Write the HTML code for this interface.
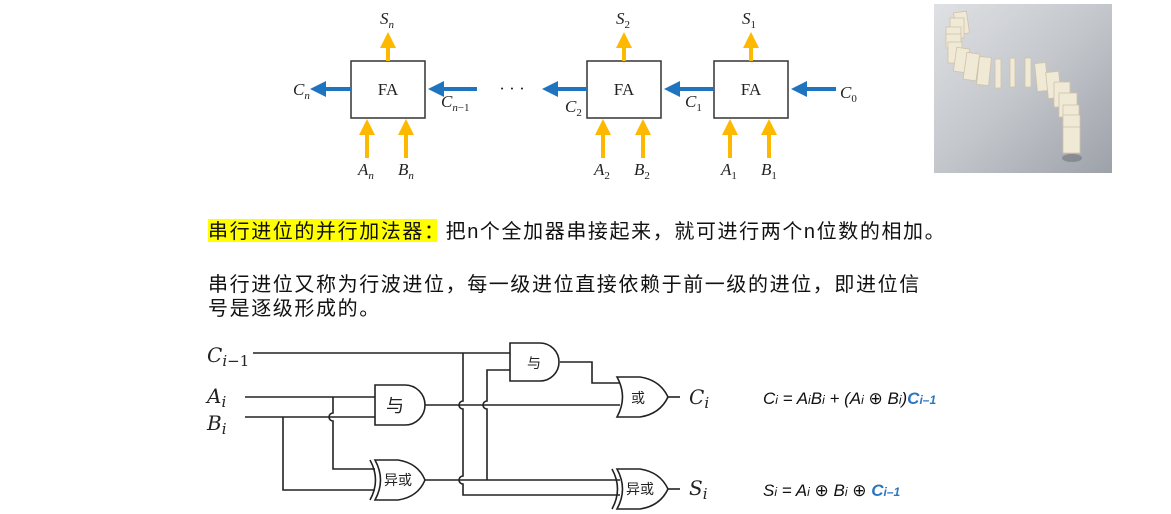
<!DOCTYPE html>
<html><head><meta charset="utf-8"><style>
body{margin:0;background:#fff;width:1171px;height:514px;overflow:hidden}
svg{display:block}
.cn{font-family:"Liberation Sans","Noto Sans CJK SC",sans-serif}
.ser{font-family:"Liberation Serif",serif;font-style:italic}
</style></head><body>
<svg width="1171" height="514" viewBox="0 0 1171 514">
<defs>
<marker id="ya" markerWidth="4" markerHeight="4" refX="2" refY="2" orient="auto"><path d="M0,0L4,2L0,4z" fill="#FFB800"/></marker>
<marker id="ba" markerWidth="4" markerHeight="4" refX="2" refY="2" orient="auto"><path d="M0,0L4,2L0,4z" fill="#1F74C0"/></marker>
<linearGradient id="bg" x1="0" y1="0" x2="1" y2="1"><stop offset="0" stop-color="#dfe1e4"/><stop offset="0.5" stop-color="#c3c6cb"/><stop offset="1" stop-color="#9da1a9"/></linearGradient>
</defs>
<g fill="none" stroke="#333" stroke-width="1.5">
<rect x="351" y="61" width="74" height="57" fill="#fff"/>
<rect x="587" y="61" width="74" height="57" fill="#fff"/>
<rect x="714" y="61" width="74" height="57" fill="#fff"/>
</g>
<g font-family="Liberation Serif,serif" font-size="17" text-anchor="middle" fill="#222">
<text x="388" y="95">FA</text><text x="624" y="95">FA</text><text x="751" y="95">FA</text>
<text x="512" y="94">· · ·</text>
</g>
<g stroke="#FFB800" stroke-width="4" marker-end="url(#ya)">
<line x1="388" y1="61" x2="388" y2="40"/><line x1="624" y1="61" x2="624" y2="40"/><line x1="751" y1="61" x2="751" y2="40"/>
<line x1="367" y1="158" x2="367" y2="127"/><line x1="406" y1="158" x2="406" y2="127"/>
<line x1="603" y1="158" x2="603" y2="127"/><line x1="643" y1="158" x2="643" y2="127"/>
<line x1="730" y1="158" x2="730" y2="127"/><line x1="769" y1="158" x2="769" y2="127"/>
</g>
<g stroke="#1F74C0" stroke-width="4" marker-end="url(#ba)">
<line x1="351" y1="89" x2="318" y2="89"/><line x1="477" y1="89" x2="436" y2="89"/>
<line x1="587" y1="89" x2="550" y2="89"/><line x1="714" y1="89" x2="672" y2="89"/>
<line x1="836" y1="89" x2="799" y2="89"/>
</g>
<g class="ser" font-size="17" fill="#222">
<text x="380" y="24">S<tspan font-size="11" dy="4">n</tspan></text>
<text x="616" y="24">S<tspan font-size="11" dy="4" font-style="normal">2</tspan></text>
<text x="742" y="24">S<tspan font-size="11" dy="4" font-style="normal">1</tspan></text>
<text x="293" y="95">C<tspan font-size="11" dy="4">n</tspan></text>
<text x="441" y="107">C<tspan font-size="11" dy="4">n</tspan><tspan font-size="11" font-style="normal">−1</tspan></text>
<text x="565" y="112">C<tspan font-size="11" dy="4" font-style="normal">2</tspan></text>
<text x="685" y="107">C<tspan font-size="11" dy="4" font-style="normal">1</tspan></text>
<text x="840" y="98">C<tspan font-size="11" dy="4" font-style="normal">0</tspan></text>
<text x="358" y="175">A<tspan font-size="11" dy="4">n</tspan></text>
<text x="398" y="175">B<tspan font-size="11" dy="4">n</tspan></text>
<text x="594" y="175">A<tspan font-size="11" dy="4" font-style="normal">2</tspan></text>
<text x="634" y="175">B<tspan font-size="11" dy="4" font-style="normal">2</tspan></text>
<text x="721" y="175">A<tspan font-size="11" dy="4" font-style="normal">1</tspan></text>
<text x="761" y="175">B<tspan font-size="11" dy="4" font-style="normal">1</tspan></text>
</g>
<!-- photo -->
<rect x="934" y="4" width="178" height="169" fill="url(#bg)"/>
<g fill="#4a4c52" opacity="0.35">
<ellipse cx="1072" cy="158" rx="10" ry="4"/>
</g>
<g fill="#f0e9d6" stroke="#cdc3a8" stroke-width="0.8">
<rect x="955" y="12" width="13" height="22" transform="rotate(-8 961 23)"/>
<rect x="950" y="18" width="14" height="20"/>
<rect x="946" y="27" width="15" height="17"/>
<rect x="946" y="34" width="15" height="14"/>
<rect x="948" y="42" width="14" height="21"/>
<rect x="955" y="48" width="13" height="24" transform="rotate(8 961 60)"/>
<rect x="965" y="53" width="13" height="27" transform="rotate(8 971 66)"/>
<rect x="978" y="57" width="12" height="28" transform="rotate(6 984 71)"/>
<rect x="995" y="59" width="6" height="29"/>
<rect x="1010" y="58" width="5" height="29"/>
<rect x="1025" y="58" width="6" height="29"/>
<rect x="1036" y="63" width="11" height="28" transform="rotate(-6 1041 77)"/>
<rect x="1047" y="72" width="13" height="26" transform="rotate(-6 1053 85)"/>
<rect x="1054" y="82" width="16" height="25"/>
<rect x="1059" y="93" width="18" height="24"/>
<rect x="1063" y="105" width="16" height="22"/>
<rect x="1063" y="115" width="17" height="15"/>
<rect x="1063" y="127" width="17" height="26"/>
</g>
<!-- text -->
<rect x="208" y="219" width="229" height="23" fill="#ffff00"/>
<g class="cn" font-size="20" fill="#111" letter-spacing="1.6">
<text x="208" y="238">串行进位的并行加法器：把n个全加器串接起来，就可进行两个n位数的相加。</text>
<text x="208" y="291">串行进位又称为行波进位，每一级进位直接依赖于前一级的进位，即进位信</text>
<text x="208" y="315">号是逐级形成的。</text>
</g>
<!-- circuit -->
<g fill="none" stroke="#222" stroke-width="1.6">
<path d="M253,353H510"/>
<path d="M245,397H375"/><path d="M245,417H375"/>
<path d="M333,397V413a4,4 0 0 0 0,8V469H375"/>
<path d="M283,417V490H375"/>
<path d="M425,405H620"/>
<path d="M425,480H620"/>
<path d="M463,353V401a4,4 0 0 0 0,8V476a4,4 0 0 0 0,8V495H620"/>
<path d="M510,370H487V401a4,4 0 0 0 0,8V480"/>
<path d="M560,362H592V383H622"/>
<path d="M668,397H680"/><path d="M668,489H680"/>
<path d="M510,343H540A19,19 0 0 1 540,381H510Z" fill="#fff"/>
<path d="M375,385H405A20,20 0 0 1 405,425H375Z" fill="#fff"/>
<path d="M617,377H640Q660,380 668,397Q660,414 640,417H617Q628,397 617,377Z" fill="#fff"/>
<path d="M375,460H398Q418,463 425,480Q418,497 398,500H375Q386,480 375,460Z" fill="#fff"/>
<path d="M370,460Q381,480 370,500"/>
<path d="M617,469H640Q660,472 668,489Q660,506 640,509H617Q628,489 617,469Z" fill="#fff"/>
<path d="M612,469Q623,489 612,509"/>
</g>
<g class="cn" font-size="14" fill="#222">
<text x="527" y="368">与</text>
<text x="386" y="412" font-size="18">与</text>
<text x="631" y="403">或</text>
<text x="384" y="485">异或</text>
<text x="626" y="494">异或</text>
</g>
<g font-family="DejaVu Serif,serif" font-style="italic" font-size="20" fill="#222">
<text x="207" y="362">C<tspan font-size="15" dy="4">i</tspan><tspan font-size="15" font-style="normal">−1</tspan></text>
<text x="207" y="403">A<tspan font-size="15" dy="4">i</tspan></text>
<text x="207" y="430">B<tspan font-size="15" dy="4">i</tspan></text>
<text x="689" y="404">C<tspan font-size="15" dy="4">i</tspan></text>
<text x="689" y="495">S<tspan font-size="15" dy="4">i</tspan></text>
</g>
<g font-family="Liberation Sans,sans-serif" font-style="italic" font-size="17" fill="#111">
<text x="763" y="404">C<tspan font-size="12">i</tspan> = A<tspan font-size="12">i</tspan>B<tspan font-size="12">i</tspan> + (A<tspan font-size="12">i</tspan> <tspan font-style="normal">⊕</tspan> B<tspan font-size="12">i</tspan>)<tspan fill="#2E75C0" font-weight="bold">C<tspan font-size="12">i–1</tspan></tspan></text>
<text x="763" y="496">S<tspan font-size="12">i</tspan> = A<tspan font-size="12">i</tspan> <tspan font-style="normal">⊕</tspan> B<tspan font-size="12">i</tspan> <tspan font-style="normal">⊕</tspan> <tspan fill="#2E75C0" font-weight="bold">C<tspan font-size="12">i–1</tspan></tspan></text>
</g>
</svg>
</body></html>
